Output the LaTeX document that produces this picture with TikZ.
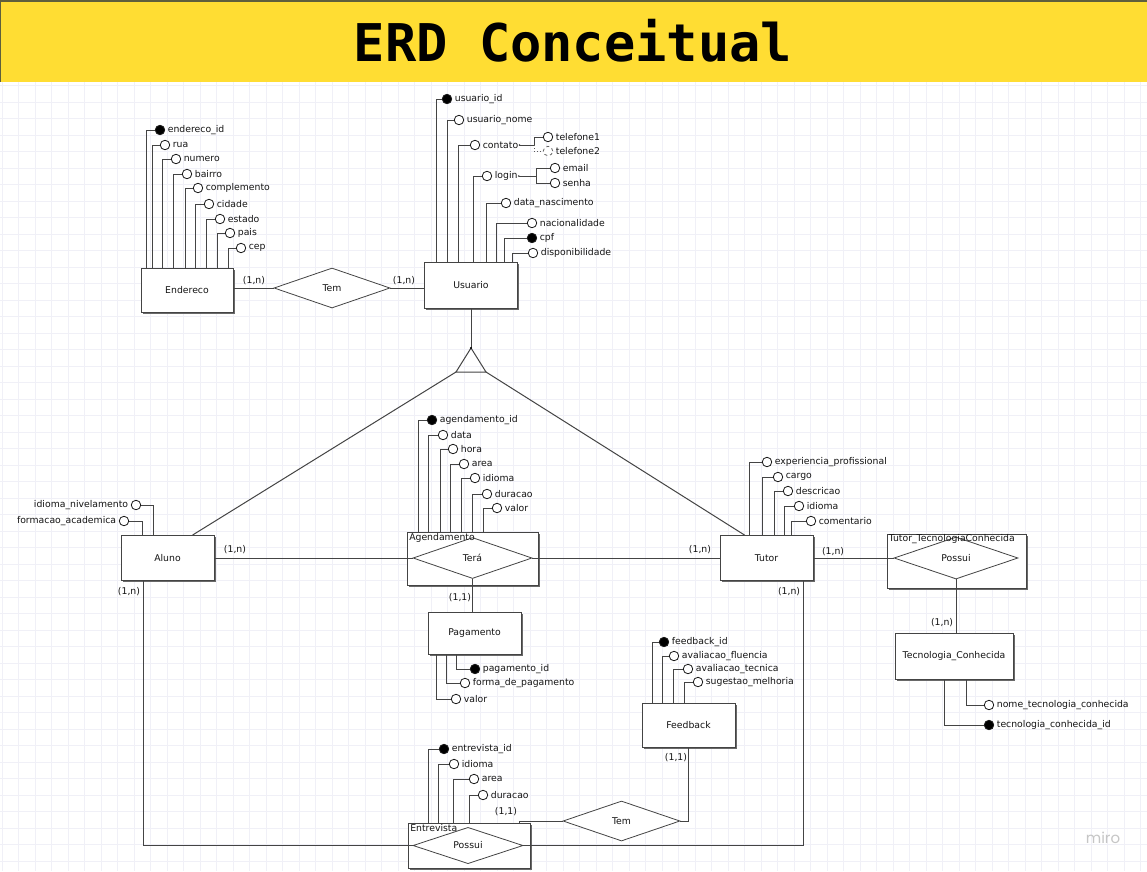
\documentclass[tikz,border=0pt]{standalone}
\usepackage{fontspec}
\setmainfont{DejaVu Sans}
\newfontfamily\titlefont{DejaVu Sans Mono}
\newfontfamily\mirofont{Poppins}
\usetikzlibrary{shapes.geometric,shadows}

\definecolor{banner}{RGB}{255,221,51}
\definecolor{bordabanner}{RGB}{95,95,60}
\definecolor{linha}{RGB}{68,68,68}
\definecolor{grade}{RGB}{240,240,247}
\definecolor{texto}{RGB}{20,20,20}

\tikzset{
	entidade/.style={draw=linha, fill=white, line width=0.9pt, inner sep=0pt, text=texto,
		drop shadow={shadow xshift=1.6pt, shadow yshift=-1.6pt, fill=linha!80, opacity=1}},
	relacao/.style={diamond, draw=linha, fill=white, line width=0.8pt, inner sep=0pt, text=texto},
	atributo/.style={circle, draw=black!90, fill=white, line width=0.8pt, inner sep=0pt, minimum size=9.5pt},
	chave/.style={atributo, fill=black},
	ligacao/.style={draw=linha, line width=1pt},
	rotulo/.style={inner sep=1.5pt, text=texto},
	card/.style={inner sep=0pt, text=texto}
}

\begin{document}
\begin{tikzpicture}[x=1pt, y=-1pt, every node/.style={font=\fontsize{9.3}{10}\selectfont},
	every label/.style={inner sep=1pt, text=texto}, label distance=1.5pt]
		%%%%% START %%%%%
		\useasboundingbox (0,0) rectangle (1147,871);
		
		% fundo e grade
		\fill[white] (0,0) rectangle (1147,871);
		\foreach \gx in {2,18.5,...,1147} \draw[grade, line width=0.5pt] (\gx,82) -- (\gx,871);
		\foreach \gy in {85.5,102,...,871} \draw[grade, line width=0.5pt] (0,\gy) -- (1147,\gy);
		
		% faixa do titulo
		\fill[banner] (0,0) rectangle (1147,82);
		\draw[bordabanner, line width=1.5pt] (0,0.75) -- (1147,0.75);
		\draw[bordabanner, line width=0.8pt] (0.4,0) -- (0.4,82);
		\node[font=\titlefont\bfseries\fontsize{52}{60}\selectfont, text=black] (titulo) at (573,41) {ERD Conceitual};
		
		%% entidades
		\node[entidade, minimum width=92pt, minimum height=44pt] (endereco) at (187,290) {Endereco};
		\node[entidade, minimum width=93pt, minimum height=46pt] (usuario) at (471,285) {Usuario};
		\node[entidade, minimum width=93pt, minimum height=45pt] (aluno) at (167.5,558) {Aluno};
		\node[entidade, minimum width=93pt, minimum height=45pt] (tutor) at (766.5,558) {Tutor};
		\node[entidade, minimum width=93pt, minimum height=42pt] (pagamento) at (474.5,633) {Pagamento};
		\node[entidade, minimum width=93pt, minimum height=44pt] (feedback) at (688.5,725) {Feedback};
		\node[entidade, minimum width=118pt, minimum height=46pt] (tecnologia) at (954,656) {Tecnologia\_Conhecida};
		
		%% entidades associativas
		\node[entidade, minimum width=131pt, minimum height=53pt] (agendamento) at (472.5,558.5) {};
		\node[relacao, minimum width=119pt, minimum height=41pt] (tera) at (472.5,558) {Terá};
		\node[rotulo, anchor=north west] (agendamentol) at ([xshift=1pt]agendamento.north west) {Agendamento};
		
		\node[entidade, minimum width=139pt, minimum height=54pt] (tutortec) at (956.5,561) {};
		\node[relacao, minimum width=124pt, minimum height=42pt] (possui2) at (956,558) {Possui};
		\node[rotulo, anchor=north west, inner sep=1pt] (tutortecl) at ([xshift=1pt]tutortec.north west) {Tutor\_TecnologiaConhecida};
		
		\node[entidade, minimum width=122pt, minimum height=45pt] (entrevista) at (469,845.5) {};
		\node[relacao, minimum width=110pt, minimum height=31pt] (possui1) at (468,845.5) {Possui};
		\node[rotulo, anchor=north west] (entrevistal) at ([xshift=1pt]entrevista.north west) {Entrevista};
		
		%% relacionamentos
		\node[relacao, minimum width=116pt, minimum height=40pt] (tem1) at (332,288) {Tem};
		\node[relacao, minimum width=117pt, minimum height=40pt] (tem2) at (621.5,821) {Tem};
		
		%% atributos endereco
		\node[chave, label=right:endereco\_id] (e1) at (160,130) {};
		\node[atributo, label=right:rua] (e2) at (165,145) {};
		\node[atributo, label=right:numero] (e3) at (176,159) {};
		\node[atributo, label=right:bairro] (e4) at (187,174) {};
		\node[atributo, label=right:complemento] (e5) at (198,188) {};
		\node[atributo, label=right:cidade] (e6) at (209,204) {};
		\node[atributo, label=right:estado] (e7) at (220,219) {};
		\node[atributo, label=right:pais] (e8) at (230,233) {};
		\node[atributo, label=right:cep] (e9) at (241,248) {};
		\draw[ligacao] (e1) -| ([xshift=6pt]endereco.north west);
		\draw[ligacao] (e2) -| ([xshift=12pt]endereco.north west);
		\draw[ligacao] (e3) -| ([xshift=22pt]endereco.north west);
		\draw[ligacao] (e4) -| ([xshift=33pt]endereco.north west);
		\draw[ligacao] (e5) -| ([xshift=45pt]endereco.north west);
		\draw[ligacao] (e6) -| ([xshift=55pt]endereco.north west);
		\draw[ligacao] (e7) -| ([xshift=66pt]endereco.north west);
		\draw[ligacao] (e8) -| ([xshift=77pt]endereco.north west);
		\draw[ligacao] (e9) -| ([xshift=88pt]endereco.north west);
		
		%% atributos usuario
		\node[chave, label=right:usuario\_id] (u1) at (447,99) {};
		\node[atributo, label=right:usuario\_nome] (u2) at (459,120) {};
		\node[atributo, label={[name=u3l]right:contato}] (u3) at (475,145) {};
		\node[atributo, label={[name=u4l]right:login}] (u4) at (487,176) {};
		\node[atributo, label=right:data\_nascimento] (u5) at (506,203) {};
		\node[atributo, label=right:nacionalidade] (u6) at (532,223) {};
		\node[chave, label=right:cpf] (u7) at (532,238) {};
		\node[atributo, label=right:disponibilidade] (u8) at (533,253) {};
		\draw[ligacao] (u1) -| ([xshift=12pt]usuario.north west);
		\draw[ligacao] (u2) -| ([xshift=23pt]usuario.north west);
		\draw[ligacao] (u3) -| ([xshift=34pt]usuario.north west);
		\draw[ligacao] (u4) -| ([xshift=49pt]usuario.north west);
		\draw[ligacao] (u5) -| ([xshift=62pt]usuario.north west);
		\draw[ligacao] (u6) -| ([xshift=72pt]usuario.north west);
		\draw[ligacao] (u7) -| ([xshift=80pt]usuario.north west);
		\draw[ligacao] (u8) -| ([xshift=88pt]usuario.north west);
		
		% compostos
		\node[atributo, label=right:telefone1] (tel1) at (548,137) {};
		\node[atributo, dashed, draw=black!60, label=right:telefone2] (tel2) at (548,151) {};
		\coordinate (contatoj) at (534,145);
		\draw[ligacao] (u3l.east) -- (contatoj) |- (tel1);
		\draw[ligacao, dotted, draw=black!65] (contatoj) |- (tel2);
		\fill[linha] (u3l.east) circle (0.9pt);
		
		\node[atributo, label=right:email] (email) at (555,168) {};
		\node[atributo, label=right:senha] (senha) at (555,183) {};
		\coordinate (loginj) at (536,176);
		\draw[ligacao] (u4l.east) -- (loginj) |- (email);
		\draw[ligacao] (loginj) |- (senha);
		\fill[linha] (u4l.east) circle (0.9pt);
		
		%% atributos aluno
		\node[atributo, label=left:idioma\_nivelamento] (a1) at (136,505) {};
		\node[atributo, label=left:formacao\_academica] (a2) at (124,521) {};
		\draw[ligacao] (a1) -| ([xshift=33pt]aluno.north west);
		\draw[ligacao] (a2) -| ([xshift=22pt]aluno.north west);
		
		%% atributos tutor
		\node[atributo, label=right:experiencia\_profissional] (t1) at (767,462) {};
		\node[atributo, label=right:cargo] (t2) at (778,477) {};
		\node[atributo, label=right:descricao] (t3) at (788,491) {};
		\node[atributo, label=right:idioma] (t4) at (799,506) {};
		\node[atributo, label=right:comentario] (t5) at (811,521) {};
		\draw[ligacao] (t1) -| ([xshift=30pt]tutor.north west);
		\draw[ligacao] (t2) -| ([xshift=43pt]tutor.north west);
		\draw[ligacao] (t3) -| ([xshift=55pt]tutor.north west);
		\draw[ligacao] (t4) -| ([xshift=65pt]tutor.north west);
		\draw[ligacao] (t5) -| ([xshift=72pt]tutor.north west);
		
		%% atributos agendamento
		\node[chave, label=right:agendamento\_id] (g1) at (432,420) {};
		\node[atributo, label=right:data] (g2) at (443,435) {};
		\node[atributo, label=right:hora] (g3) at (453,449) {};
		\node[atributo, label=right:area] (g4) at (464,464) {};
		\node[atributo, label=right:idioma] (g5) at (475,478) {};
		\node[atributo, label=right:duracao] (g6) at (487,494) {};
		\node[atributo, label=right:valor] (g7) at (497,508) {};
		\draw[ligacao] (g1) -| ([xshift=12pt]agendamento.north west);
		\draw[ligacao] (g2) -| ([xshift=22pt]agendamento.north west);
		\draw[ligacao] (g3) -| ([xshift=34pt]agendamento.north west);
		\draw[ligacao] (g4) -| ([xshift=44pt]agendamento.north west);
		\draw[ligacao] (g5) -| ([xshift=55pt]agendamento.north west);
		\draw[ligacao] (g6) -| ([xshift=66pt]agendamento.north west);
		\draw[ligacao] (g7) -| ([xshift=77pt]agendamento.north west);
		
		%% atributos pagamento
		\node[chave, label=right:pagamento\_id] (p1) at (475,669) {};
		\node[atributo, label=right:forma\_de\_pagamento] (p2) at (465,683) {};
		\node[atributo, label=right:valor] (p3) at (456,699) {};
		\draw[ligacao] (p1) -| ([xshift=29pt]pagamento.south west);
		\draw[ligacao] (p2) -| ([xshift=19pt]pagamento.south west);
		\draw[ligacao] (p3) -| ([xshift=9pt]pagamento.south west);
		
		%% atributos feedback
		\node[chave, label=right:feedback\_id] (f1) at (664,642) {};
		\node[atributo, label=right:avaliacao\_fluencia] (f2) at (674,656) {};
		\node[atributo, label=right:avaliacao\_tecnica] (f3) at (688,669) {};
		\node[atributo, label=right:sugestao\_melhoria] (f4) at (698,682) {};
		\draw[ligacao] (f1) -| ([xshift=11pt]feedback.north west);
		\draw[ligacao] (f2) -| ([xshift=21pt]feedback.north west);
		\draw[ligacao] (f3) -| ([xshift=32pt]feedback.north west);
		\draw[ligacao] (f4) -| ([xshift=43pt]feedback.north west);
		
		%% atributos entrevista
		\node[chave, label=right:entrevista\_id] (n1) at (444,749) {};
		\node[atributo, label=right:idioma] (n2) at (454,764) {};
		\node[atributo, label=right:area] (n3) at (474,779) {};
		\node[atributo, label=right:duracao] (n4) at (483,795) {};
		\draw[ligacao] (n1) -| ([xshift=21pt]entrevista.north west);
		\draw[ligacao] (n2) -| ([xshift=31pt]entrevista.north west);
		\draw[ligacao] (n3) -| ([xshift=46pt]entrevista.north west);
		\draw[ligacao] (n4) -| ([xshift=62pt]entrevista.north west);
		
		%% atributos tecnologia
		\node[atributo, label=right:nome\_tecnologia\_conhecida] (k1) at (989,705) {};
		\node[chave, label=right:tecnologia\_conhecida\_id] (k2) at (989,725) {};
		\draw[ligacao] (k1) -| ([xshift=72pt]tecnologia.south west);
		\draw[ligacao] (k2) -| ([xshift=50pt]tecnologia.south west);
		
		%% especializacao
		\coordinate (topo) at (471,348);
		\coordinate (baseesq) at (456,372);
		\coordinate (basedir) at (486,372);
		\draw[ligacao] (usuario.south) -- (topo);
		\draw[ligacao, line join=miter] (topo) -- (baseesq) -- (basedir) -- cycle;
		\fill[black] (topo) circle (1.2pt);
		\draw[ligacao] (baseesq) -- ([xshift=72pt]aluno.north west);
		\draw[ligacao] (basedir) -- ([xshift=25pt]tutor.north west);
		
		%% ligacoes
		\draw[ligacao] (tem1.west) -- (tem1.west -| endereco.east);
		\draw[ligacao] (tem1.east) -- (tem1.east -| usuario.west);
		\draw[ligacao] (aluno.east) -- (tera.west);
		\draw[ligacao] (tera.east) -- (tutor.west);
		\draw[ligacao] (tutor.east) -- (possui2.west);
		\draw[ligacao] (possui2.south) -- (possui2.south |- tecnologia.north);
		\draw[ligacao] (tera.south) -- (tera.south |- pagamento.north);
		\draw[ligacao] ([xshift=23pt]aluno.south west) |- (possui1.west);
		\draw[ligacao] ([xshift=84pt]tutor.south west) |- (possui1.east);
		\draw[ligacao] ([xshift=112pt]entrevista.north west) |- (tem2.west);
		\draw[ligacao] (tem2.east) -| (feedback.south);
		
		%% cardinalidades
		\node[card] (c1) at (254,281) {(1,n)};
		\node[card] (c2) at (404,281) {(1,n)};
		\node[card] (c3) at (235,550) {(1,n)};
		\node[card] (c4) at (700,550) {(1,n)};
		\node[card] (c5) at (833,552) {(1,n)};
		\node[card] (c6) at (942,623) {(1,n)};
		\node[card] (c7) at (129,592) {(1,n)};
		\node[card] (c8) at (789,592) {(1,n)};
		\node[card] (c9) at (460,598) {(1,1)};
		\node[card] (c10) at (506,812) {(1,1)};
		\node[card] (c11) at (676,758) {(1,1)};
		
		\node[text=gray!45, font=\mirofont\fontsize{15}{18}\selectfont] (miro) at (1103,838) {miro};
		%%%%% END %%%%%
	\end{tikzpicture}
\end{document}
